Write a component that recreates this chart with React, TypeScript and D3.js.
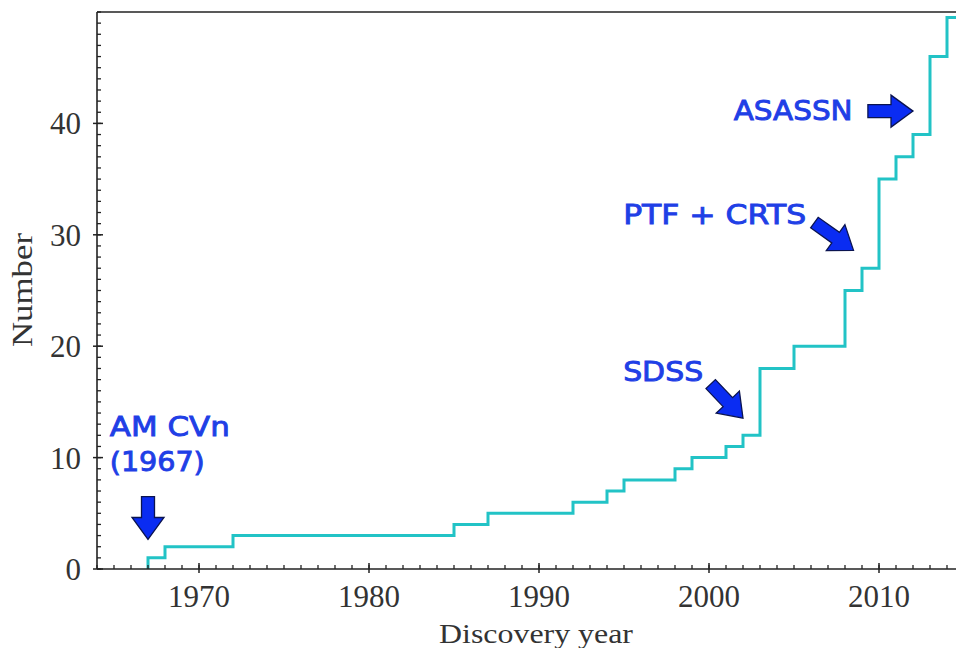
import React from 'react';
import * as d3 from 'd3';

// Cumulative number of discovered systems (step-post at each discovery year)
const years = [1967, 1968, 1972, 1985, 1987, 1992, 1994, 1995, 1998, 1999, 2001, 2002, 2003, 2005, 2008, 2009, 2010, 2011, 2012, 2013, 2014];
const counts = [1, 2, 3, 4, 5, 6, 7, 8, 9, 10, 11, 12, 18, 20, 25, 27, 35, 37, 39, 46, 49.5];

const xTicks = [1970, 1980, 1990, 2000, 2010];
const yTicks = [0, 10, 20, 30, 40];
const xDomain = [1964, 2015];
const yDomain = [0, 50];

// Annotation labels (lines), anchored in data coordinates
const annoLines = [['AM CVn', '(1967)'], ['SDSS'], ['PTF + CRTS'], ['ASASSN']];
const annoTextAt = [[1964.75, 11.95], [1994.95, 16.9], [1994.95, 31.0], [2001.45, 40.3]];
const annoWidths = [[120, 95], [80], [183], [119]];
// arrow tail -> tip (data coordinates)
const arrowTail = [[1967, 6.5], [2000.1, 16.6], [2006.2, 31.1], [2009.35, 41.1]];
const arrowTip = [[1967, 2.65], [2002.0, 13.55], [2008.5, 28.6], [2012.0, 41.1]];

const W = 956;
const H = 648;
const L = 97;
const T = 12;
const B = 569;
const PX_PER_YEAR = 17;

const TEXT_BLUE = '#1f3fe6';
const ARROW_BLUE = '#0a2cf2';

function arrowPath(x0: number, y0: number, x1: number, y1: number, sw: number, hw: number, hl: number) {
  const dx = x1 - x0, dy = y1 - y0;
  const len = Math.hypot(dx, dy);
  const ux = dx / len, uy = dy / len;
  const nx = -uy, ny = ux;
  const bx = x1 - ux * hl, by = y1 - uy * hl;
  const pts = [
    [x0 + nx * sw / 2, y0 + ny * sw / 2],
    [bx + nx * sw / 2, by + ny * sw / 2],
    [bx + nx * hw / 2, by + ny * hw / 2],
    [x1, y1],
    [bx - nx * hw / 2, by - ny * hw / 2],
    [bx - nx * sw / 2, by - ny * sw / 2],
    [x0 - nx * sw / 2, y0 - ny * sw / 2],
  ];
  return 'M' + pts.map(p => p[0].toFixed(1) + ',' + p[1].toFixed(1)).join('L') + 'Z';
}

export default function App() {
  const R = L + (xDomain[1] - xDomain[0]) * PX_PER_YEAR;
  const x = d3.scaleLinear().domain(xDomain).range([L, R]);
  const y = d3.scaleLinear().domain(yDomain).range([B, T]);

  const pts: [number, number][] = [[years[0], 0]];
  years.forEach((yr, i) => pts.push([yr, counts[i]]));
  pts.push([xDomain[1], counts[counts.length - 1]]);
  const line = d3.line<[number, number]>()
    .x(d => x(d[0]))
    .y(d => y(d[1]))
    .curve(d3.curveStepAfter);

  const xMinor = d3.range(xDomain[0], xDomain[1] + 1, 1);
  const yMinor = d3.range(yDomain[0], yDomain[1] + 1, 1);

  const serif = '"Liberation Serif", "DejaVu Serif", serif';
  const sans = '"DejaVu Sans", Verdana, sans-serif';
  const axisColor = '#222';

  return (
    <svg width={W} height={H} style={{ position: 'absolute', left: 0, top: 0, background: '#fff' }}>
      <defs>
        <clipPath id="plot">
          <rect x={L} y={T} width={R - L} height={B - T} />
        </clipPath>
      </defs>
      <rect x={0} y={0} width={W} height={H} fill="#fff" />

      {/* step line */}
      <path d={line(pts) || ''} fill="none" stroke="#22c3c6" strokeWidth={3} clipPath="url(#plot)" />

      {/* minor ticks */}
      {xMinor.map(v => (
        <line key={'xm' + v} x1={x(v)} x2={x(v)} y1={B} y2={B - 4} stroke={axisColor} strokeWidth={1.3} />
      ))}
      {yMinor.map(v => (
        <line key={'ym' + v} x1={L} x2={L + 4} y1={y(v)} y2={y(v)} stroke={axisColor} strokeWidth={1.3} />
      ))}
      {/* major ticks */}
      {xTicks.map(v => (
        <line key={'xM' + v} x1={x(v)} x2={x(v)} y1={B + 4} y2={B - 6} stroke={axisColor} strokeWidth={1.5} />
      ))}
      {yTicks.map(v => (
        <line key={'yM' + v} x1={L - 4} x2={L + 6} y1={y(v)} y2={y(v)} stroke={axisColor} strokeWidth={1.5} />
      ))}

      {/* spines */}
      <line x1={L} x2={L} y1={T} y2={B} stroke={axisColor} strokeWidth={1.6} />
      <line x1={L} x2={R} y1={B} y2={B} stroke={axisColor} strokeWidth={1.6} />
      <line x1={L} x2={R} y1={T} y2={T} stroke={axisColor} strokeWidth={1.6} />
      <line x1={R} x2={R} y1={T} y2={B} stroke={axisColor} strokeWidth={1.6} />

      {/* tick labels */}
      {xTicks.map(v => (
        <text key={'xl' + v} x={x(v)} y={B + 38} textAnchor="middle" fontFamily={serif} fontSize={31} fill="#333">
          {v}
        </text>
      ))}
      {yTicks.map(v => (
        <text key={'yl' + v} x={L - 16} y={y(v) + 11} textAnchor="end" fontFamily={serif} fontSize={31} fill="#333">
          {v}
        </text>
      ))}

      {/* axis titles */}
      <text x={536} y={643} textAnchor="middle" fontFamily={serif} fontSize={28} fill="#333"
        textLength={194} lengthAdjust="spacingAndGlyphs">Discovery year</text>
      <text transform="translate(32,290) rotate(-90)" textAnchor="middle" fontFamily={serif} fontSize={30} fill="#333"
        textLength={114} lengthAdjust="spacingAndGlyphs">Number</text>

      {/* annotations */}
      {annoLines.map((lines, i) => (
        <g key={'an' + i}>
          {lines.map((s, j) => (
            <text key={j} x={x(annoTextAt[i][0])} y={y(annoTextAt[i][1]) + j * 35}
              fontFamily={sans} fontSize={27} fill={TEXT_BLUE} stroke={TEXT_BLUE} strokeWidth={0.9}
              textLength={annoWidths[i][j]} lengthAdjust="spacingAndGlyphs">{s}</text>
          ))}
          <path d={arrowPath(x(arrowTail[i][0]), y(arrowTail[i][1]), x(arrowTip[i][0]), y(arrowTip[i][1]), 13, 32, 22)}
            fill={ARROW_BLUE} stroke="#0b1450" strokeWidth={1.3} strokeLinejoin="miter" />
        </g>
      ))}
    </svg>
  );
}
